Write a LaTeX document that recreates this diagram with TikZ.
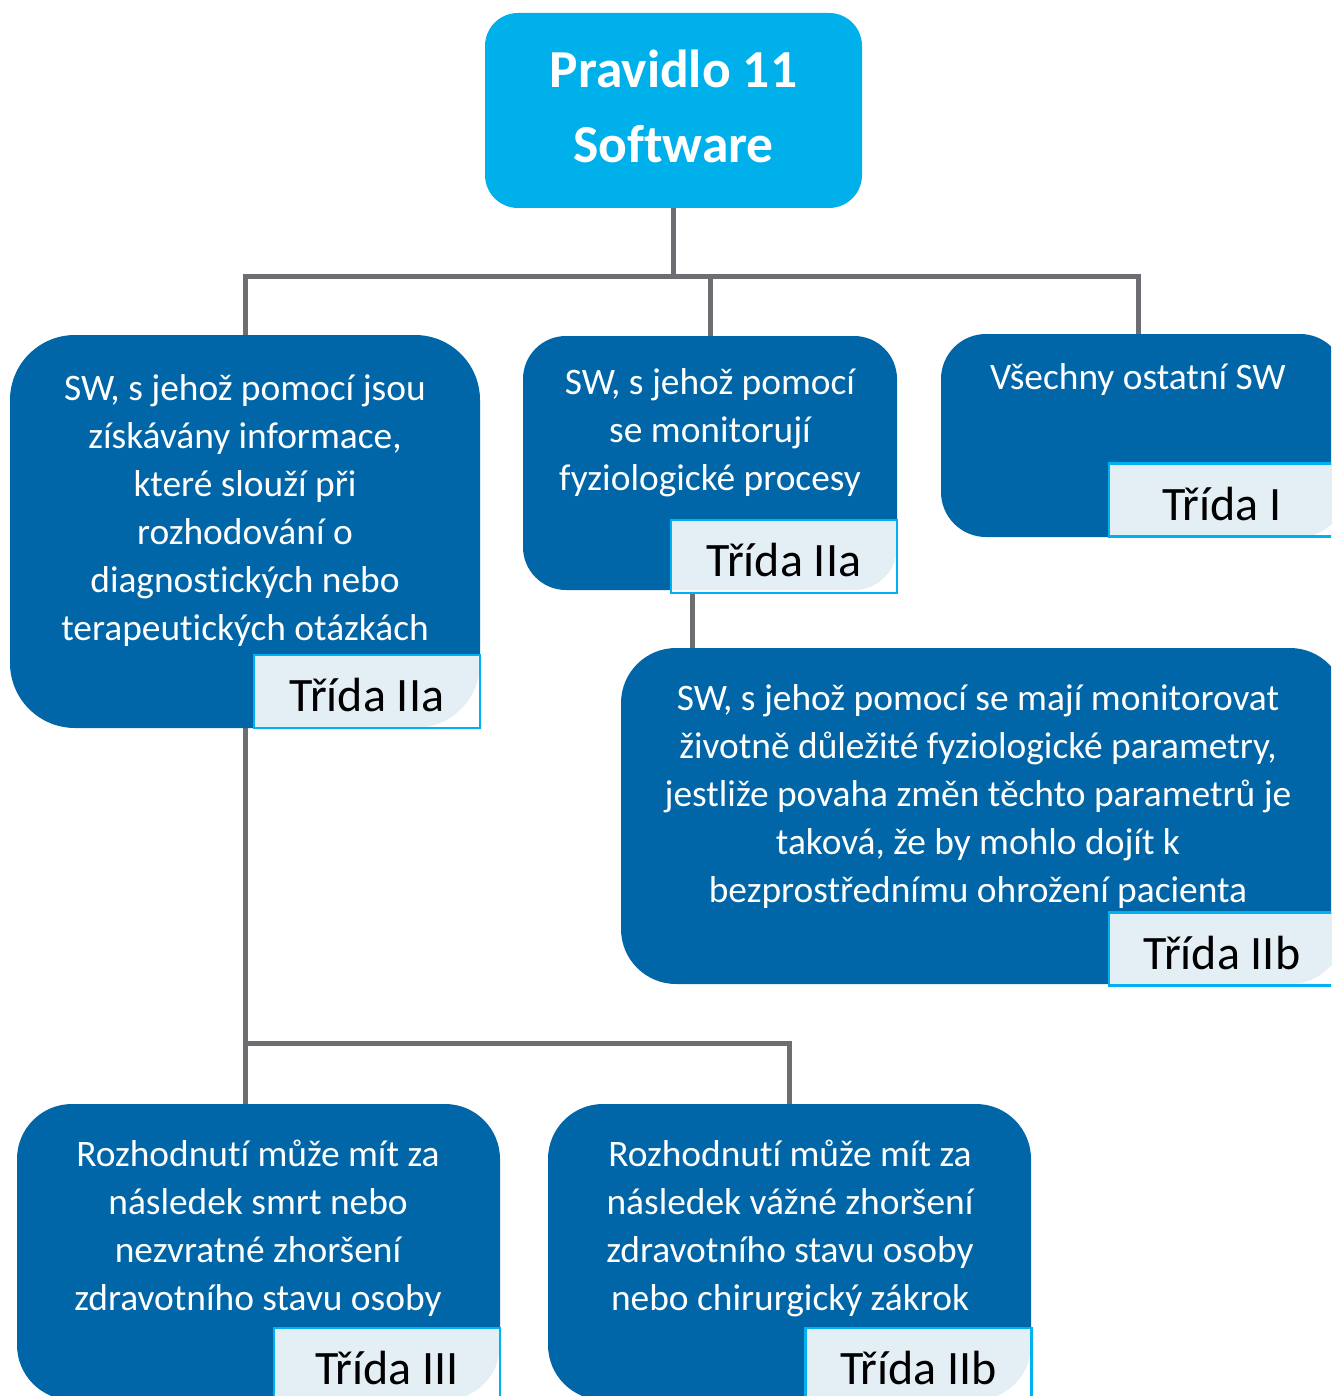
\documentclass[tikz,border=0pt]{standalone}
\usepackage{fontspec}
\setmainfont{Carlito}[Ligatures={NoCommon}]
\definecolor{dblue}{HTML}{0066A8}
\definecolor{tblue}{HTML}{00B0EA}
\definecolor{lcyan}{HTML}{00B0F0}
\definecolor{cgray}{HTML}{6D6E71}
\pgfdeclarelayer{background}
\pgfsetlayers{background,main}
\begin{document}
\begin{tikzpicture}[x=1pt,y=-1pt,
  blk/.style={fill=dblue, draw=none, inner sep=0pt},
  headbox/.style={fill=tblue, draw=none, inner sep=0pt, rounded corners=33pt,
    minimum width=377pt, minimum height=195pt},
  txt/.style={text=white, align=center, inner sep=0pt, font=\fontsize{37.4}{48}\selectfont},
  lbl/.style={draw=lcyan, line width=2.5pt, fill=white, fill opacity=0.89, text opacity=1,
    text=black, inner sep=0pt, minimum width=226pt, minimum height=73pt,
    text height=40pt, text depth=0pt, font=\fontsize{48}{56}\selectfont},
  conn/.style={draw=cgray, line width=5pt}]
\clip (0,0) rectangle (1331,1396);

% title
\node[headbox] (title) at (673.5,110.5) {};
\node[text=white, align=center, inner sep=0pt, font=\bfseries\fontsize{53.5}{75}\selectfont]
  (tt) at (673.5,106.5) {Pravidlo 11\\Software};

% first level
\node[blk, rounded corners=65pt, minimum width=470pt, minimum height=393pt] (b1) at (245,531.5) {};
\node[txt] (t1) at (245,511) {SW, s jehož pomocí jsou\\získávány informace,\\které slouží při\\rozhodování o\\diagnostických nebo\\terapeutických otázkách};
\node[lbl] (l1) at (367,691.5) {Třída IIa};

\node[blk, rounded corners=43pt, minimum width=374pt, minimum height=254pt] (b2) at (710,463) {};
\node[txt] (t2) at (710,433) {SW, s jehož pomocí\\se monitorují\\fyziologické procesy};
\node[lbl] (l2) at (784,556.5) {Třída IIa};

\node[blk, rounded corners=45pt, minimum width=404pt, minimum height=203pt] (b3) at (1143,435.5) {};
\node[txt] (t3) at (1138,380) {Všechny ostatní SW};
\node[lbl] (l3) at (1222,500) {Třída I};

% second level
\node[blk, rounded corners=55pt, minimum width=724pt, minimum height=336pt] (b4) at (983,816) {};
\node[txt] (t4) at (978,797) {SW, s jehož pomocí se mají monitorovat\\životně důležité fyziologické parametry,\\jestliže povaha změn těchto parametrů je\\taková, že by mohlo dojít k\\bezprostřednímu ohrožení pacienta};
\node[lbl] (l4) at (1222,949) {Třída IIb};

\node[blk, rounded corners=55pt, minimum width=483pt, minimum height=296pt] (b5) at (258.5,1252) {};
\node[txt] (t5) at (258,1228) {Rozhodnutí může mít za\\následek smrt nebo\\nezvratné zhoršení\\zdravotního stavu osoby};
\node[lbl] (l5) at (387,1364.5) {Třída III};

\node[blk, rounded corners=55pt, minimum width=483pt, minimum height=296pt] (b6) at (789.5,1252) {};
\node[txt] (t6) at (790,1228) {Rozhodnutí může mít za\\následek vážné zhoršení\\zdravotního stavu osoby\\nebo chirurgický zákrok};
\node[lbl] (l6) at (918.5,1364.5) {Třída IIb};

% junctions
\coordinate (j1) at (673.5,277);
\coordinate (j2) at (245,1043);
\coordinate (c24) at (692,0);

\begin{pgfonlayer}{background}
  \draw[conn] (title.south) -- (j1);
  \draw[conn] (j1) -| (b1.north);
  \draw[conn] (j1) -| (b2.north);
  \draw[conn] (j1) -| (b3.north -| t3);
  \draw[conn] (l2.south -| c24) -- (b4.north -| c24);
  \draw[conn] (b1.south) -- (b1.south |- b5.north);
  \draw[conn] (j2) -| (b6.north);
\end{pgfonlayer}
\end{tikzpicture}
\end{document}
